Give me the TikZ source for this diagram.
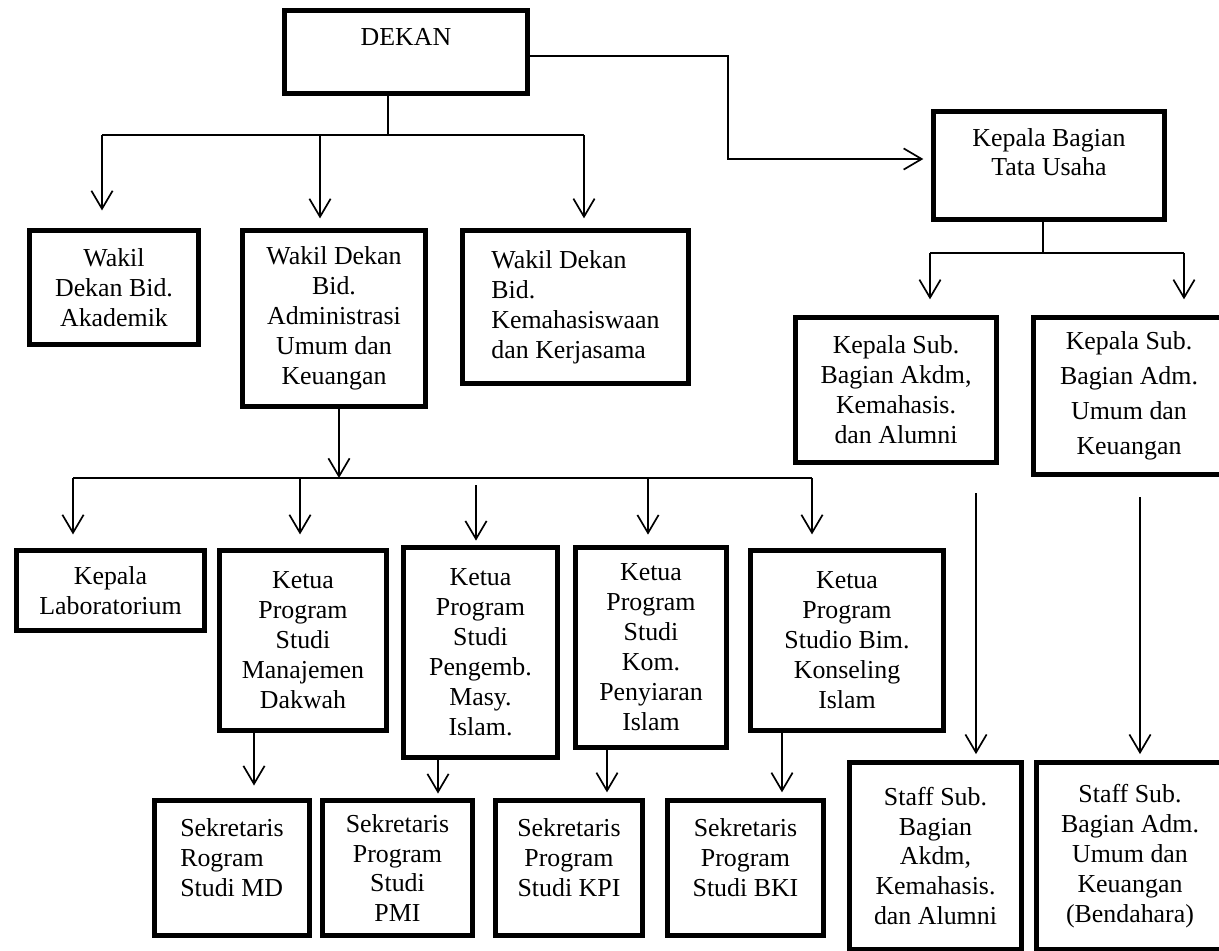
\documentclass[tikz,border=0pt]{standalone}
\usepackage{fontspec}
\setmainfont{Liberation Serif}
\usepackage{tikz}
\usetikzlibrary{positioning,arrows.meta}

\begin{document}
\begin{tikzpicture}[x=0.025cm, y=-0.025cm,
  box/.style={draw, line width=3.5pt, align=center, inner sep=2pt,
    font=\fontsize{18.4}{21.3}\selectfont},
  ln/.style={line width=1.2pt},
  arr/.style={ln, -{Straight Barb[length=0.45cm, width=0.53cm]}, shorten >=#1},
  arr/.default=0cm]
  \useasboundingbox (0,0) rectangle (1219,950);

  \node[box, minimum width=6.08cm, minimum height=2.08cm] (dekan) at (406,52) {DEKAN\\[-6.4pt]\strut};
  \node[box, minimum width=4.23cm, minimum height=2.85cm] (wdak) at (114,287.5) {Wakil\\Dekan Bid.\\Akademik};
  \node[box, minimum width=4.58cm, minimum height=4.4cm] (wdau) at (334,318.5) {Wakil Dekan\\Bid.\\Administrasi\\Umum dan\\Keuangan};
  \node[box, align=left, minimum width=5.65cm, minimum height=3.83cm] (wdkk) at (575.5,307) {Wakil Dekan\\Bid.\\Kemahasiswaan\\dan Kerjasama};
  \node[box, minimum width=5.78cm, minimum height=2.7cm] (kbtu) at (1049,165.5) {Kepala Bagian\\Tata Usaha\\[-8.5pt]\strut};
  \node[box, minimum width=5.03cm, minimum height=3.63cm] (ksak) at (896,390) {Kepala Sub.\\Bagian Akdm,\\Kemahasis.\\dan Alumni};
  \node[box, minimum width=4.76cm, minimum height=3.93cm] (ksau) at (1129,396) {Kepala Sub.\\[3.5pt]Bagian Adm.\\[3.5pt]Umum dan\\[3.5pt]Keuangan};
  \node[box, minimum width=4.7cm, minimum height=2cm] (klab) at (110.5,590.5) {Kepala\\Laboratorium};
  \node[box, minimum width=4.18cm, minimum height=4.5cm] (kpmd) at (303,640.5) {Ketua\\Program\\Studi\\Manajemen\\Dakwah};
  \node[box, minimum width=3.85cm, minimum height=5.25cm] (kppmi) at (480.5,652.5) {Ketua\\Program\\Studi\\Pengemb.\\Masy.\\Islam.};
  \node[box, minimum width=3.78cm, minimum height=5cm] (kpkpi) at (651,647.5) {Ketua\\Program\\Studi\\Kom.\\Penyiaran\\Islam};
  \node[box, minimum width=4.83cm, minimum height=4.5cm] (kpbki) at (847,640.5) {Ketua\\Program\\Studio Bim.\\Konseling\\Islam};
  \node[box, align=left, minimum width=3.88cm, minimum height=3.38cm] (smd) at (232,868) {Sekretaris\\Rogram\\Studi MD\\[-12.8pt]\strut};
  \node[box, minimum width=3.75cm, minimum height=3.38cm] (spmi) at (397.5,868) {Sekretaris\\Program\\Studi\\PMI};
  \node[box, minimum width=3.68cm, minimum height=3.38cm] (skpi) at (569,868) {Sekretaris\\Program\\Studi KPI\\[-12.8pt]\strut};
  \node[box, minimum width=3.9cm, minimum height=3.38cm] (sbki) at (745.5,868) {Sekretaris\\Program\\Studi BKI\\[-12.8pt]\strut};
  \node[box, minimum width=4.3cm, minimum height=4.69cm] (stak) at (935.5,856) {Staff Sub.\\Bagian\\Akdm,\\Kemahasis.\\dan Alumni};
  \node[box, minimum width=4.69cm, minimum height=4.69cm] (stau) at (1130,856) {Staff Sub.\\Bagian Adm.\\Umum dan\\Keuangan\\(Bendahara)};

  \coordinate (jd) at (388,135);
  \coordinate (a1) at (102,135);
  \coordinate (a2) at (320,135);
  \coordinate (a3) at (584,135);
  \draw[ln] (dekan.south -| jd) -- (jd);
  \draw[ln] (a1) -- (a3);
  \draw[arr=0.44cm] (a1) -- (a1 |- wdak.north);
  \draw[arr=0.24cm] (a2) -- (a2 |- wdau.north);
  \draw[arr=0.24cm] (a3) -- (a3 |- wdkk.north);

  \coordinate (kt) at (728,56);
  \coordinate (kb) at (728,159);
  \draw[arr=0.19cm] (kt -| dekan.east) -- (kt) -- (kb) -- (kb -| kbtu.west);

  \coordinate (jk) at (1043,253);
  \coordinate (b1) at (930,253);
  \coordinate (b2) at (1184,253);
  \draw[ln] (kbtu.south -| jk) -- (jk);
  \draw[ln] (b1) -- (b2);
  \draw[arr=0.39cm] (b1) -- (b1 |- ksak.north);
  \draw[arr=0.39cm] (b2) -- (b2 |- ksau.north);

  \coordinate (jw) at (339,478);
  \coordinate (c1) at (73,478);
  \coordinate (c2) at (300,478);
  \coordinate (c3) at (476,485);
  \coordinate (c4) at (648,478);
  \coordinate (c5) at (812,478);
  \draw[arr] (wdau.south -| jw) -- (jw);
  \draw[ln] (c1) -- (c5);
  \draw[arr=0.34cm] (c1) -- (c1 |- klab.north);
  \draw[arr=0.34cm] (c2) -- (c2 |- kpmd.north);
  \draw[arr=0.11cm] (c3) -- (c3 |- kppmi.north);
  \draw[arr=0.26cm] (c4) -- (c4 |- kpkpi.north);
  \draw[arr=0.34cm] (c5) -- (c5 |- kpbki.north);

  \draw[arr=0.31cm] (kpmd.south) ++(-49,0) coordinate (d1) -- (d1 |- smd.north);
  \draw[arr=0.11cm] (kppmi.south) ++(-42.5,0) coordinate (d2) -- (d2 |- spmi.north);
  \draw[arr=0.14cm] (kpkpi.south) ++(-44,0) coordinate (d3) -- (d3 |- skpi.north);
  \draw[arr=0.14cm] (kpbki.south) ++(-65,0) coordinate (d4) -- (d4 |- sbki.north);

  \coordinate (s1) at (976,493);
  \coordinate (s2) at (1140,497);
  \draw[arr=0.14cm] (s1) -- (s1 |- stak.north);
  \draw[arr=0.14cm] (s2) -- (s2 |- stau.north);
\end{tikzpicture}
\end{document}
